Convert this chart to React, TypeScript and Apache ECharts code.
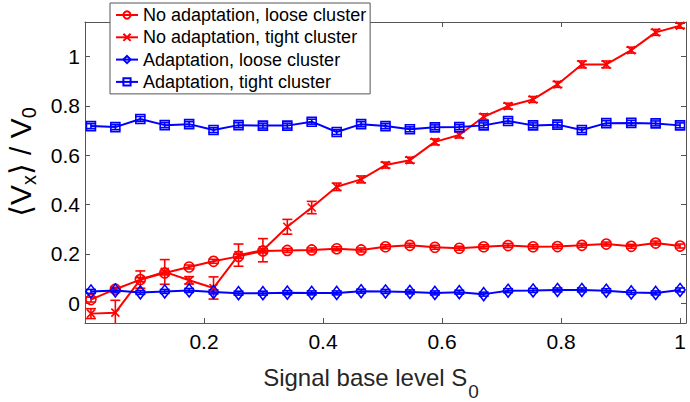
import React, { useEffect, useRef } from "react";
import * as echarts from "echarts";

// Signal base level S0 (x positions of the samples)
const xValues = [
  0.01, 0.051, 0.093, 0.134, 0.175, 0.216, 0.258, 0.299, 0.34, 0.381, 0.423, 0.464, 0.505,
  0.546, 0.588, 0.629, 0.67, 0.711, 0.753, 0.794, 0.835, 0.876, 0.918, 0.959, 1.0,
];

const seriesNames = [
  "No adaptation, loose cluster",
  "No adaptation, tight cluster",
  "Adaptation, loose cluster",
  "Adaptation, tight cluster",
];

const noAdaptLoose = [
  0.015, 0.057, 0.096, 0.123, 0.147, 0.17, 0.19, 0.212, 0.214, 0.216, 0.221, 0.216, 0.229,
  0.235, 0.227, 0.223, 0.229, 0.234, 0.229, 0.23, 0.235, 0.24, 0.231, 0.244, 0.232,
];
const noAdaptLooseErr = [
  0.01, 0.008, 0.008, 0.008, 0.008, 0.008, 0.008, 0.008, 0.008, 0.008, 0.008, 0.008, 0.008,
  0.008, 0.008, 0.008, 0.008, 0.008, 0.008, 0.008, 0.008, 0.008, 0.008, 0.008, 0.008,
];

const noAdaptTight = [
  -0.042, -0.038, 0.096, 0.127, 0.093, 0.062, 0.195, 0.215, 0.31, 0.388, 0.472, 0.502, 0.56,
  0.58, 0.654, 0.682, 0.756, 0.799, 0.826, 0.887, 0.968, 0.968, 1.026, 1.098, 1.125,
];
const noAdaptTightErr = [
  0.02, 0.05, 0.035, 0.05, 0.015, 0.045, 0.045, 0.047, 0.03, 0.025, 0.015, 0.014, 0.012,
  0.012, 0.012, 0.012, 0.012, 0.012, 0.012, 0.012, 0.014, 0.014, 0.012, 0.012, 0.01,
];

const adaptLoose = [
  0.048, 0.052, 0.044, 0.048, 0.052, 0.046, 0.041, 0.041, 0.043, 0.042, 0.042, 0.049, 0.048,
  0.046, 0.042, 0.045, 0.037, 0.051, 0.052, 0.054, 0.054, 0.051, 0.044, 0.042, 0.054,
];
const adaptLooseErr = [
  0.008, 0.008, 0.008, 0.008, 0.008, 0.008, 0.008, 0.008, 0.008, 0.008, 0.008, 0.008, 0.008,
  0.008, 0.008, 0.008, 0.008, 0.008, 0.008, 0.008, 0.008, 0.008, 0.008, 0.008, 0.008,
];

const adaptTight = [
  0.718, 0.714, 0.747, 0.722, 0.726, 0.702, 0.722, 0.72, 0.72, 0.736, 0.694, 0.726, 0.718,
  0.705, 0.713, 0.714, 0.721, 0.739, 0.721, 0.724, 0.702, 0.73, 0.731, 0.729, 0.721,
];
const adaptTightErr = [
  0.01, 0.01, 0.01, 0.01, 0.01, 0.01, 0.01, 0.01, 0.01, 0.01, 0.01, 0.01, 0.01,
  0.01, 0.01, 0.01, 0.01, 0.01, 0.01, 0.01, 0.01, 0.01, 0.01, 0.01, 0.01,
];

const xTicks = [0.2, 0.4, 0.6, 0.8, 1];
const yTicks = [0, 0.2, 0.4, 0.6, 0.8, 1];

const RED = "#ff0000";
const BLUE = "#0000ff";
const FONT = "'Liberation Sans', Arial, Helvetica, 'DejaVu Sans', sans-serif";
const AXIS_COLOR = "#555555";

const crossPath = "path://M0,0L10,10M10,0L0,10";

function lineSeries(name: string, ys: number[], color: string, symbol: string, size: any) {
  return {
    name,
    type: "line",
    data: xValues.map((x, i) => [x, ys[i]]),
    symbol,
    symbolSize: size,
    showSymbol: true,
    lineStyle: { color, width: 2 },
    itemStyle: { color: "rgba(0,0,0,0)", borderColor: color, borderWidth: 1.6 },
    emphasis: { disabled: true },
    clip: true,
    z: 3,
  };
}

function errSeries(ys: number[], errs: number[], color: string) {
  return {
    type: "custom",
    data: xValues.map((x, i) => [x, ys[i] - errs[i], ys[i] + errs[i]]),
    encode: { x: 0, y: [1, 2] },
    clip: true,
    z: 2,
    silent: true,
    renderItem: (params: any, api: any) => {
      const x = api.value(0);
      const lo = api.coord([x, api.value(1)]);
      const hi = api.coord([x, api.value(2)]);
      const w = 5;
      const style = { stroke: color, lineWidth: 1.6 };
      return {
        type: "group",
        children: [
          { type: "line", shape: { x1: lo[0], y1: lo[1], x2: hi[0], y2: hi[1] }, style },
          { type: "line", shape: { x1: lo[0] - w, y1: lo[1], x2: lo[0] + w, y2: lo[1] }, style },
          { type: "line", shape: { x1: hi[0] - w, y1: hi[1], x2: hi[0] + w, y2: hi[1] }, style },
        ],
      };
    },
  };
}

export default function App() {
  const ref = useRef<HTMLDivElement>(null);
  useEffect(() => {
    if (!ref.current) return;
    const chart = echarts.init(ref.current, null, { renderer: "svg" });
    const axisCommon = {
      type: "value",
      axisLine: { show: true, onZero: false, lineStyle: { color: AXIS_COLOR, width: 1 } },
      splitLine: { show: false },
    };
    chart.setOption({
      animation: false,
      backgroundColor: "#ffffff",
      grid: { left: 85, right: 4, top: 22, bottom: 79, containLabel: false, outerBoundsMode: "none" },
      legend: {
        data: seriesNames,
        orient: "vertical",
        left: 110,
        top: 3,
        itemWidth: 22,
        itemHeight: 9,
        itemGap: 2.3,
        padding: [2, 4, 2, 5],
        backgroundColor: "#ffffff",
        borderColor: AXIS_COLOR,
        borderWidth: 1,
        borderRadius: 0,
        selectedMode: false,
        textStyle: { fontFamily: FONT, fontSize: 18, lineHeight: 20, color: "#000" },
      },
      xAxis: [
        {
          ...axisCommon,
          position: "bottom",
          min: 0,
          max: 1.01,
          axisTick: { show: true, inside: true, length: 5, customValues: xTicks, lineStyle: { color: AXIS_COLOR } },
          axisLabel: {
            show: true,
            customValues: xTicks,
            margin: 8,
            fontFamily: FONT,
            fontSize: 21,
            color: "#000",
            formatter: (v: number) => String(Math.round(v * 10) / 10),
          },
        },
        {
          ...axisCommon,
          position: "top",
          min: 0,
          max: 1.01,
          axisTick: { show: true, inside: true, length: 5, customValues: xTicks, lineStyle: { color: AXIS_COLOR } },
          axisLabel: { show: false },
        },
      ],
      yAxis: [
        {
          ...axisCommon,
          position: "left",
          min: -0.08,
          max: 1.14,
          axisTick: { show: true, inside: true, length: 5, customValues: yTicks, lineStyle: { color: AXIS_COLOR } },
          axisLabel: {
            show: true,
            customValues: yTicks,
            margin: 5,
            fontFamily: FONT,
            fontSize: 21,
            color: "#000",
            formatter: (v: number) => String(Math.round(v * 10) / 10),
          },
        },
        {
          ...axisCommon,
          position: "right",
          min: -0.08,
          max: 1.14,
          axisTick: { show: true, inside: true, length: 5, customValues: yTicks, lineStyle: { color: AXIS_COLOR } },
          axisLabel: { show: false },
        },
      ],
      graphic: [
        {
          type: "text",
          x: 20,
          y: 162,
          rotation: Math.PI / 2,
          style: {
            text: "⟨V{sub|x}⟩ / V{sub|0}",
            fontFamily: FONT,
            fontSize: 30,
            fill: "#000",
            align: "center",
            verticalAlign: "middle",
            rich: {
              sub: { fontFamily: FONT, fontSize: 20, padding: [18, 0, 0, 0], fill: "#000" },
            },
          },
        },
        {
          type: "text",
          x: 371,
          y: 377,
          style: {
            text: "Signal base level S{sub|0}",
            fontFamily: FONT,
            fontSize: 24,
            fill: "#262626",
            align: "center",
            verticalAlign: "middle",
            rich: {
              sub: { fontFamily: FONT, fontSize: 19, padding: [28, 0, 0, 1], fill: "#262626" },
            },
          },
        },
      ],
      series: [
        lineSeries(seriesNames[0], noAdaptLoose, RED, "circle", 10),
        lineSeries(seriesNames[1], noAdaptTight, RED, crossPath, 8),
        lineSeries(seriesNames[2], adaptLoose, BLUE, "diamond", [10, 13]),
        lineSeries(seriesNames[3], adaptTight, BLUE, "rect", 9),
        errSeries(noAdaptLoose, noAdaptLooseErr, RED),
        errSeries(noAdaptTight, noAdaptTightErr, RED),
        errSeries(adaptLoose, adaptLooseErr, BLUE),
        errSeries(adaptTight, adaptTightErr, BLUE),
      ],
    });
    return () => chart.dispose();
  }, []);
  return <div ref={ref} style={{ width: 690, height: 402, position: "absolute", left: 0, top: 0 }} />;
}
